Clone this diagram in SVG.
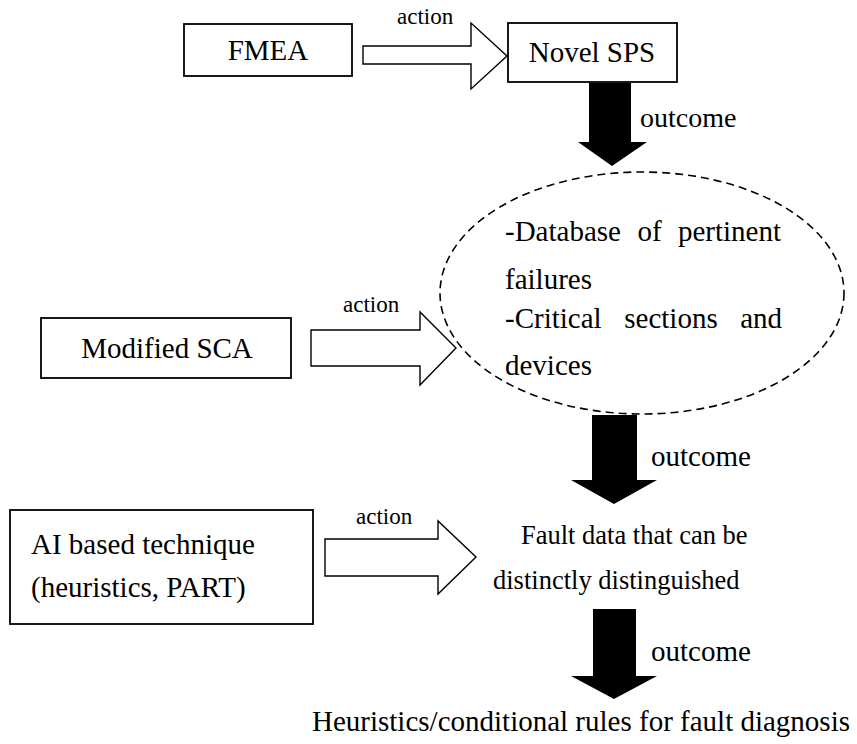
<svg xmlns="http://www.w3.org/2000/svg" width="857" height="744" viewBox="0 0 857 744">
  <style>
    .box { fill: #fff; stroke: #000; stroke-width: 1.8; }
    .hollow { fill: #fff; stroke: #000; stroke-width: 1.4; stroke-linejoin: miter; }
    .solid { fill: #000; stroke: none; }
    .cloud { fill: none; stroke: #000; stroke-width: 1.6; stroke-dasharray: 8 5; }
    text { font-family: "Liberation Serif", "Times New Roman", serif; fill: #000; }
    .lbl { font-size: 29px; }
    .note { font-size: 26.5px; }
    .small { font-size: 23px; }
    .mid { text-anchor: middle; }
    .end { text-anchor: end; }
  </style>

  <!-- input boxes -->
  <g id="fmea">
    <rect class="box" x="184" y="24" width="168" height="52"/>
    <text class="lbl mid" x="268" y="60">FMEA</text>
  </g>
  <g id="novel-sps">
    <rect class="box" x="508" y="23" width="169" height="59"/>
    <text class="lbl mid" x="592" y="62">Novel SPS</text>
  </g>
  <g id="failure-set">
    <ellipse class="cloud" cx="642" cy="293" rx="202" ry="121"/>
    <!-- justified lines: words placed with even gaps -->
    <text class="lbl" x="505" y="241">-Database</text>
    <text class="lbl mid" x="649.5" y="241">of</text>
    <text class="lbl end" x="781" y="241">pertinent</text>
    <text class="lbl" x="505" y="289">failures</text>
    <text class="lbl" x="505" y="328">-Critical</text>
    <text class="lbl mid" x="671" y="328">sections</text>
    <text class="lbl end" x="782" y="328">and</text>
    <text class="lbl" x="505" y="375">devices</text>
  </g>
  <g id="modified-sca">
    <rect class="box" x="41" y="318" width="250" height="60"/>
    <text class="lbl mid" x="167" y="358">Modified SCA</text>
  </g>
  <g id="ai-technique">
    <rect class="box" x="10" y="510" width="303" height="114"/>
    <text class="lbl" x="31" y="554">AI based technique</text>
    <text class="lbl" x="31" y="597">(heuristics, PART)</text>
  </g>
  <g id="fault-data">
    <text class="note" x="521" y="544">Fault data that can be</text>
    <text class="note" x="493" y="589">distinctly distinguished</text>
  </g>
  <g id="rules">
    <text class="lbl" x="312" y="731">Heuristics/conditional rules for fault diagnosis</text>
  </g>

  <!-- connectors -->
  <g id="connectors">
    <!-- action arrows (hollow block arrows) -->
    <polygon class="hollow" points="363,46 471,46 471,23 507,56 471,89 471,64 363,64"/>
    <text class="small" x="397" y="24">action</text>

    <polygon class="hollow" points="311,330 420,330 420,312 456,348 420,385 420,366 311,366"/>
    <text class="small" x="343" y="312">action</text>

    <polygon class="hollow" points="325,539 438,539 438,521 476,557 438,594 438,576 325,576"/>
    <text class="small" x="356" y="524">action</text>

    <!-- outcome arrows (solid block arrows) -->
    <polygon class="solid" points="589,83 631,83 631,142 647,142 612,166 578,142 589,142"/>
    <text class="lbl" x="640" y="127" style="font-size:28px">outcome</text>

    <polygon class="solid" points="592,415 637,415 637,480 657,480 614,504 571,480 592,480"/>
    <text class="lbl" x="651" y="466">outcome</text>

    <polygon class="solid" points="593,609 636,609 636,676 657,676 614,699 571,676 593,676"/>
    <text class="lbl" x="651" y="661">outcome</text>
  </g>
</svg>
